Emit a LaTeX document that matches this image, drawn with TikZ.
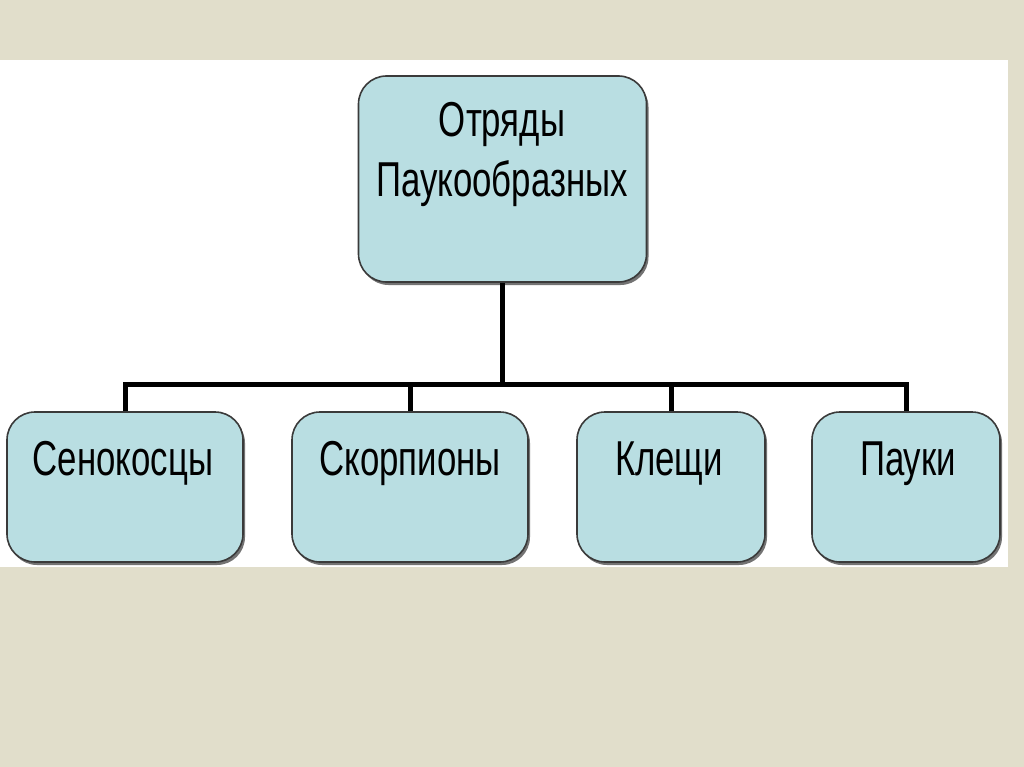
\documentclass[tikz,border=0pt]{standalone}
\usepackage{fontspec}
\setmainfont{Liberation Sans}[FakeStretch=0.71]
\usetikzlibrary{shadows}
\definecolor{bgcol}{HTML}{E1DECB}
\definecolor{boxfill}{HTML}{B9DEE2}
\definecolor{boxline}{HTML}{3A3A3A}
\tikzset{
  box/.style={draw=boxline, line width=1.6pt, fill=boxfill, rounded corners=28pt,
    drop shadow={shadow xshift=2pt, shadow yshift=-3pt, fill=black!55, opacity=1}},
  txt/.style={inner sep=0pt, font=\fontsize{49}{60}\selectfont, text=black},
  conn/.style={line width=5pt, draw=black, line join=miter}
}
\begin{document}
\begin{tikzpicture}[x=1pt, y=-1pt]
\useasboundingbox (0,0) rectangle (1024,767);
\fill[bgcol] (0,0) rectangle (1024,767);
\fill[white] (0,60) rectangle (1008,567);
% boxes
\node[box, minimum width=288pt, minimum height=206pt] (top) at (502.5,179) {};
\node[box, minimum width=236pt, minimum height=150pt] (s1) at (125,487) {};
\node[box, minimum width=236pt, minimum height=150pt] (s2) at (410,487) {};
\node[box, minimum width=188pt, minimum height=150pt] (s3) at (671,487) {};
\node[box, minimum width=188pt, minimum height=150pt] (s4) at (906,487) {};
% texts
\node[txt, anchor=north, align=center] (topt) at (502,102) {Отряды\\Паукообразных};
\node[txt, anchor=base] (s1t) at (123,475) {Сенокосцы};
\node[txt, anchor=base] (s2t) at (410,475) {Скорпионы};
\node[txt, anchor=base] (s3t) at (669,475) {Клещи};
\node[txt, anchor=base] (s4t) at (908,475) {Пауки};
% connectors
\coordinate (j) at (502.5,384);
\draw[conn] (top.south) -- (j);
\draw[conn] (s1.north) |- (j) -| (s4.north);
\draw[conn] (s2.north) -- (s2.north |- j);
\draw[conn] (s3.north) -- (s3.north |- j);
\end{tikzpicture}
\end{document}
